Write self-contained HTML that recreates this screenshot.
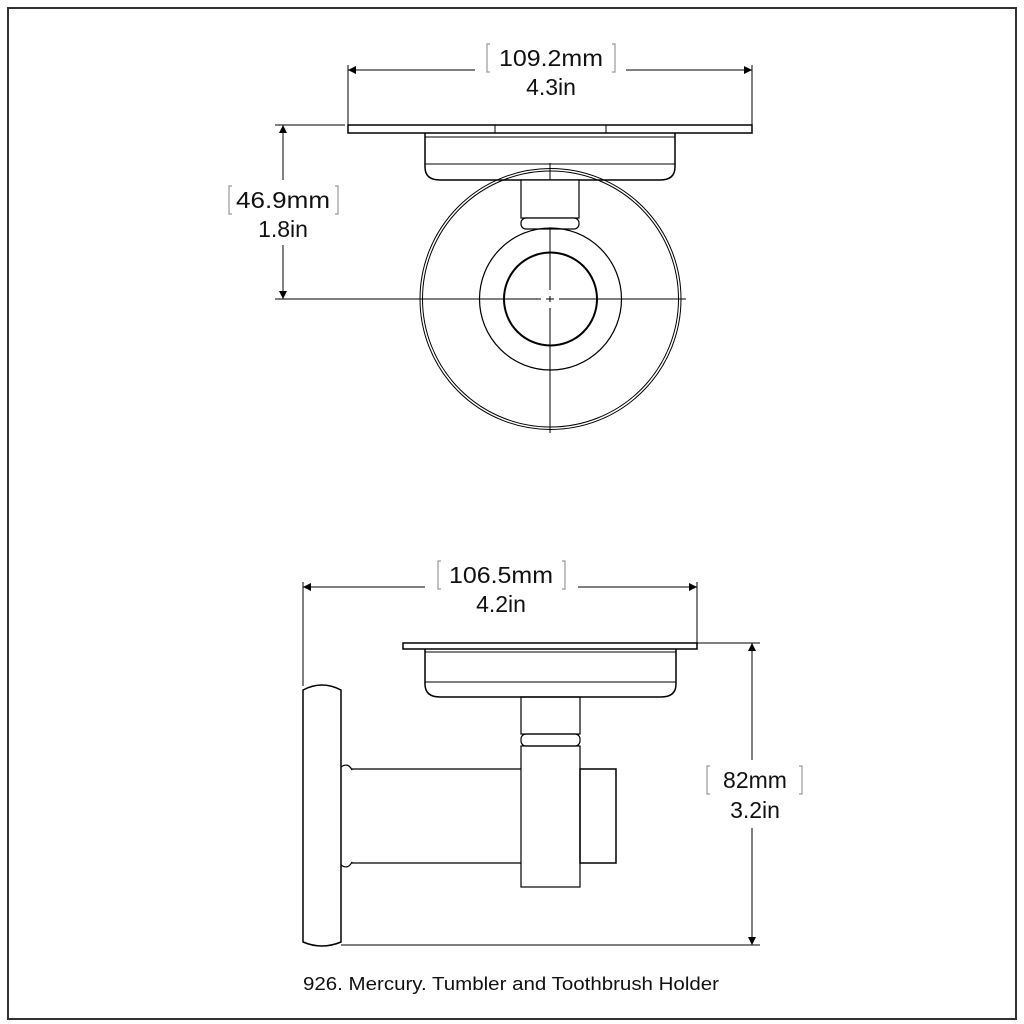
<!DOCTYPE html>
<html><head><style>html,body{margin:0;padding:0;background:#fff}svg{display:block}</style></head>
<body>
<svg width="1024" height="1024" viewBox="0 0 1024 1024" xmlns="http://www.w3.org/2000/svg" font-family="Liberation Sans, Arial, sans-serif">
<rect x="8" y="8" width="1008" height="1011" fill="none" stroke="#333" stroke-width="2"/>
<defs>
<marker id="ar" viewBox="0 0 10 10" refX="10" refY="5" markerWidth="18" markerHeight="8" markerUnits="userSpaceOnUse" orient="auto-start-reverse"><path d="M0,0L10,5L0,10z" fill="#000"/></marker>
</defs>
<g stroke="#000" fill="none" stroke-width="1">
<line x1="348" y1="65" x2="348" y2="125"/><line x1="752" y1="65" x2="752" y2="125"/>
<line x1="348" y1="70" x2="475" y2="70" marker-start="url(#ar)"/>
<line x1="626" y1="70" x2="752" y2="70" marker-end="url(#ar)"/>
<line x1="275" y1="125" x2="345" y2="125"/>
<line x1="283" y1="125" x2="283" y2="180" marker-start="url(#ar)"/>
<line x1="283" y1="245" x2="283" y2="299" marker-end="url(#ar)"/>
<line x1="275" y1="299" x2="686" y2="299"/>
<line x1="550" y1="163" x2="550" y2="433"/>
<rect x="348" y="125" width="404" height="8" stroke-width="1.5"/>
<line x1="495" y1="125" x2="495" y2="133"/><line x1="606" y1="125" x2="606" y2="133"/>
<path d="M425,133 L425,167 Q425,180 440,180 L660,180 Q675,180 675,167 L675,133" stroke-width="1.5"/>
<line x1="425" y1="137" x2="675" y2="137"/>
<line x1="425" y1="164" x2="675" y2="164"/>
<circle cx="550.5" cy="299" r="130.5"/>
<circle cx="550.5" cy="299" r="128"/>
<rect x="521" y="180" width="58" height="38" fill="#fff" stroke-width="1.2"/>
<rect x="521" y="218" width="58" height="11" rx="5" fill="#fff" stroke-width="1.2"/>
<circle cx="550.5" cy="299" r="71" stroke-width="1.2"/>
<circle cx="550.5" cy="299" r="46.5" stroke-width="2"/>
<line x1="550" y1="255" x2="550" y2="343" stroke="#fff" stroke-width="3"/>
<line x1="505" y1="299" x2="596" y2="299" stroke="#fff" stroke-width="3"/>
<line x1="550" y1="255" x2="550" y2="290"/><line x1="550" y1="296" x2="550" y2="302"/><line x1="550" y1="308" x2="550" y2="343"/>
<line x1="505" y1="299" x2="541" y2="299"/><line x1="546" y1="299" x2="554" y2="299"/><line x1="559" y1="299" x2="596" y2="299"/>
<line x1="303" y1="582" x2="303" y2="686"/><line x1="697" y1="582" x2="697" y2="643"/>
<line x1="303" y1="587" x2="425" y2="587" marker-start="url(#ar)"/>
<line x1="578" y1="587" x2="697" y2="587" marker-end="url(#ar)"/>
<line x1="697" y1="643" x2="760" y2="643"/>
<line x1="341" y1="945" x2="760" y2="945"/>
<line x1="752" y1="643" x2="752" y2="760" marker-start="url(#ar)"/>
<line x1="752" y1="828" x2="752" y2="945" marker-end="url(#ar)"/>
<rect x="403" y="643" width="294" height="6" stroke-width="1.5"/>
<path d="M425,649 L425,684 Q425,697 440,697 L661,697 Q676,697 676,684 L676,649" stroke-width="1.5"/>
<line x1="425" y1="652" x2="676" y2="652"/>
<line x1="425" y1="682" x2="676" y2="682"/>
<rect x="521" y="697" width="59" height="37" stroke-width="1.2"/>
<rect x="521" y="734" width="59" height="12" rx="5" stroke-width="1.2"/>
<rect x="521" y="746" width="59" height="141" stroke-width="1.2"/>
<rect x="580" y="769" width="36" height="94" stroke-width="1.5"/>
<path d="M341,767 Q348,762 352,770 L352,769 L521,769 M341,865 Q348,870 352,862 L352,863 L521,863" stroke-width="1.2"/>
<line x1="341" y1="767" x2="341" y2="865"/>
<path d="M303,690 Q322,680 341,690 L341,942 Q322,950 303,942 Z" stroke-width="1.5"/>
</g>
<g stroke="#999" fill="none" stroke-width="1.2">
<path d="M490,44 L487,44 L487,72 L490,72 M612,44 L615,44 L615,72 L612,72"/>
<path d="M232,186 L229,186 L229,214 L232,214 M335,186 L338,186 L338,214 L335,214"/>
<path d="M441,561 L438,561 L438,589 L441,589 M562,561 L565,561 L565,589 L562,589"/>
<path d="M710,766 L707,766 L707,794 L710,794 M799,766 L802,766 L802,794 L799,794"/>
</g>
<g font-size="23" fill="#111" text-anchor="middle">
<text x="551" y="66" textLength="104" lengthAdjust="spacingAndGlyphs">109.2mm</text><text x="551" y="95">4.3in</text>
<text x="283" y="208" textLength="94" lengthAdjust="spacingAndGlyphs">46.9mm</text><text x="283" y="237">1.8in</text>
<text x="501" y="583" textLength="104" lengthAdjust="spacingAndGlyphs">106.5mm</text><text x="501" y="612">4.2in</text>
<text x="755" y="788">82mm</text><text x="755" y="818">3.2in</text>
<text x="511" y="990" font-size="18" textLength="416" lengthAdjust="spacingAndGlyphs">926. Mercury. Tumbler and Toothbrush Holder</text>
</g>
</svg>
</body></html>
